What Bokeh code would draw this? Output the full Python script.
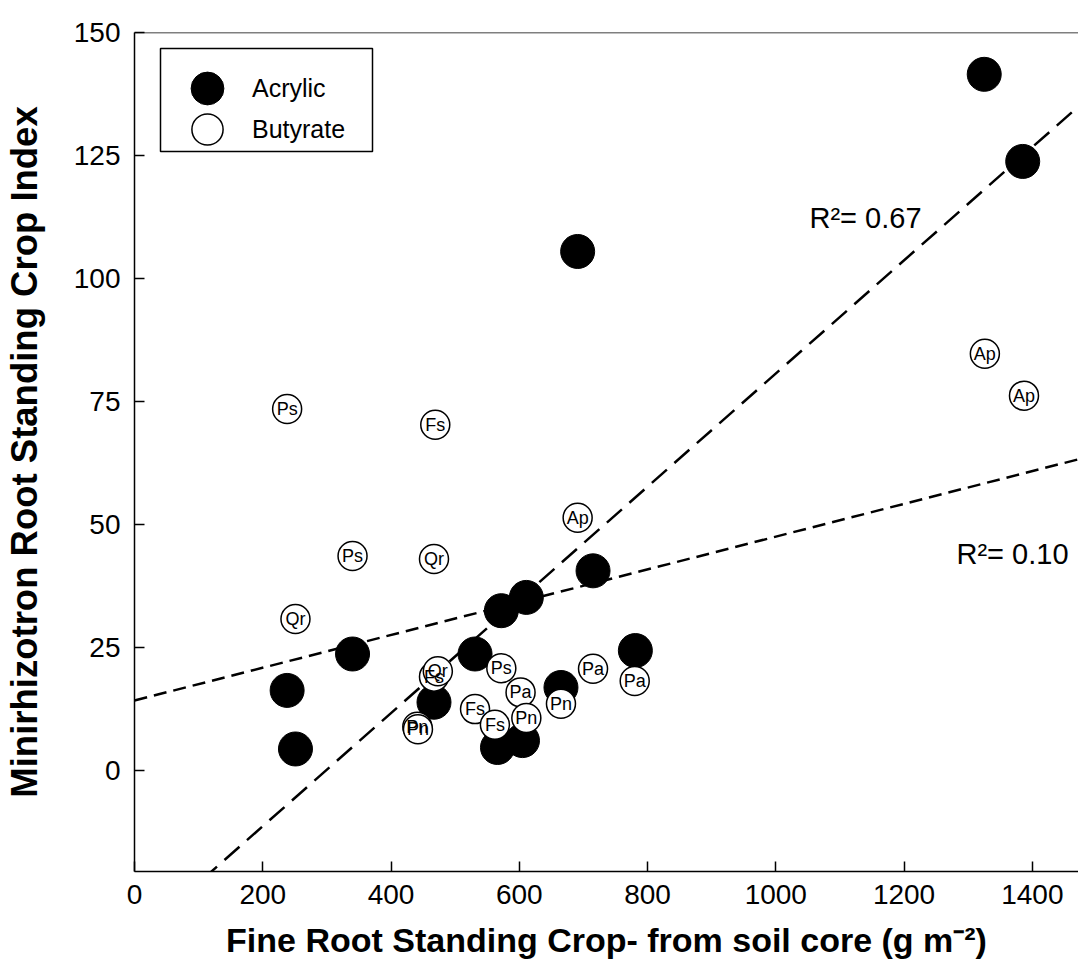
import numpy as np
from bokeh.plotting import figure
from bokeh.models import (ColumnDataSource, Legend, LegendItem, Label, Span,
                          BoxAnnotation, FixedTicker, Range1d)
from bokeh.core.properties import value
from bokeh.embed import file_html
from bokeh.resources import INLINE

# ---------------- data ----------------
acrylic_x = [1325, 1385, 691, 715, 611, 572, 531, 340, 238, 251, 781, 467, 665, 566, 605]
acrylic_y = [141.5, 123.8, 105.5, 40.6, 35.2, 32.5, 23.7, 23.7, 16.3, 4.4, 24.4, 13.9, 16.9, 4.7, 6.1]

butyrate_x = [238, 469, 340, 467, 251, 1326, 1387, 691, 572, 602, 531, 562, 611, 665,
              715, 780, 467, 473, 441, 442]
butyrate_y = [73.5, 70.3, 43.6, 43.0, 30.8, 84.7, 76.2, 51.4, 20.8, 15.9, 12.5, 9.3, 10.7, 13.6,
              20.7, 18.2, 19.1, 20.2, 8.9, 8.4]
butyrate_species = ["Ps", "Fs", "Ps", "Qr", "Qr", "Ap", "Ap", "Ap", "Ps", "Pa", "Fs", "Fs", "Pn", "Pn",
                    "Pa", "Pa", "Fs", "Qr", "Pn", "Pn"]

# regression lines (slope, intercept) and their R^2
acrylic_fit = (0.115, -34.3)
butyrate_fit = (0.0333, 14.25)
acrylic_r2 = "0.67"
butyrate_r2 = "0.10"

x_ticks = [0, 200, 400, 600, 800, 1000, 1200, 1400]
y_ticks = [0, 25, 50, 75, 100, 125, 150]
x_lim = (0, 1472)
y_lim = (-20.5, 150)

FONT = "Liberation Sans"

p = figure(width=1078, height=969,
           x_range=Range1d(*x_lim), y_range=Range1d(*y_lim),
           output_backend="svg", toolbar_location=None,
           min_border_left=133, min_border_right=0,
           min_border_top=32, min_border_bottom=98)
p.outline_line_color = None
p.xgrid.visible = False
p.ygrid.visible = False
p.background_fill_color = "white"
p.border_fill_color = "white"

for ax in (p.xaxis[0], p.yaxis[0]):
    ax.major_tick_in = 10
    ax.major_tick_out = 0
    ax.minor_tick_in = 0
    ax.minor_tick_out = 0
    ax.axis_line_width = 1.5
    ax.axis_line_color = "black"
    ax.major_tick_line_width = 1.5
    ax.major_tick_line_color = "black"
    ax.major_label_text_font = FONT
    ax.major_label_text_font_size = "28px"
    ax.major_label_text_color = "black"
    ax.axis_label_text_font = FONT
    ax.axis_label_text_font_style = "bold"
    ax.axis_label_text_color = "black"

p.xaxis.axis_label_text_font_size = "34px"
p.yaxis.axis_label_text_font_size = "36.5px"
p.xaxis.ticker = FixedTicker(ticks=x_ticks)
p.yaxis.ticker = FixedTicker(ticks=y_ticks)
p.xaxis.major_label_standoff = 13
p.yaxis.major_label_standoff = 14
p.xaxis.axis_label_standoff = 14
p.yaxis.axis_label_standoff = 26
p.xaxis.axis_label = "Fine Root Standing Crop- from soil core (g m\u207b\u00b2)"
p.yaxis.axis_label = "Minirhizotron Root Standing Crop Index"

# top frame line
p.add_layout(Span(location=y_lim[1], dimension="width", line_color="black", line_width=1.5))

# regression lines
xs = np.array(x_lim, dtype=float)
p.line(xs, acrylic_fit[0] * xs + acrylic_fit[1], line_color="black", line_width=2.5,
       line_dash="20 10")
p.line(xs, butyrate_fit[0] * xs + butyrate_fit[1], line_color="black", line_width=2.5,
       line_dash="13 7")

# points
src_a = ColumnDataSource(dict(x=acrylic_x, y=acrylic_y))
src_b = ColumnDataSource(dict(x=butyrate_x, y=butyrate_y, sp=butyrate_species))
r_a = p.scatter("x", "y", source=src_a, size=34, fill_color="black", line_color="black",
                line_width=1)
r_b = p.scatter("x", "y", source=src_b, size=29, fill_color="white", line_color="black",
                line_width=1.5)
p.text("x", "y", text="sp", source=src_b, text_font=value(FONT),
       text_font_size=value("18px"), text_align="center", text_baseline="middle",
       text_color="black")

# R^2 labels
p.add_layout(Label(x=675, y=654, x_units="screen", y_units="screen",
                   text="R\u00b2= " + acrylic_r2, text_font=FONT, text_font_size="29px",
                   text_baseline="alphabetic", text_color="black"))
p.add_layout(Label(x=822, y=318, x_units="screen", y_units="screen",
                   text="R\u00b2= " + butyrate_r2, text_font=FONT, text_font_size="29px",
                   text_baseline="alphabetic", text_color="black"))

# legend
p.add_layout(BoxAnnotation(left=26, right=238, top=823, bottom=720,
                           left_units="screen", right_units="screen",
                           top_units="screen", bottom_units="screen",
                           fill_color=None, fill_alpha=0, line_color="black",
                           line_alpha=1, line_width=1.5))
leg_a = Legend(items=[LegendItem(label="Acrylic", renderers=[r_a])], location=(32, 742),
               glyph_width=82, glyph_height=82, padding=0, margin=0, spacing=0,
               border_line_color=None, background_fill_alpha=0, label_standoff=4,
               label_text_font=FONT, label_text_font_size="25px", label_text_color="black")
leg_b = Legend(items=[LegendItem(label="Butyrate", renderers=[r_b])], location=(34, 703),
               glyph_width=78, glyph_height=78, padding=0, margin=0, spacing=0,
               border_line_color=None, background_fill_alpha=0, label_standoff=6,
               label_text_font=FONT, label_text_font_size="25px", label_text_color="black")
p.add_layout(leg_a)
p.add_layout(leg_b)

open("out.html", "w").write(file_html(p, INLINE))
